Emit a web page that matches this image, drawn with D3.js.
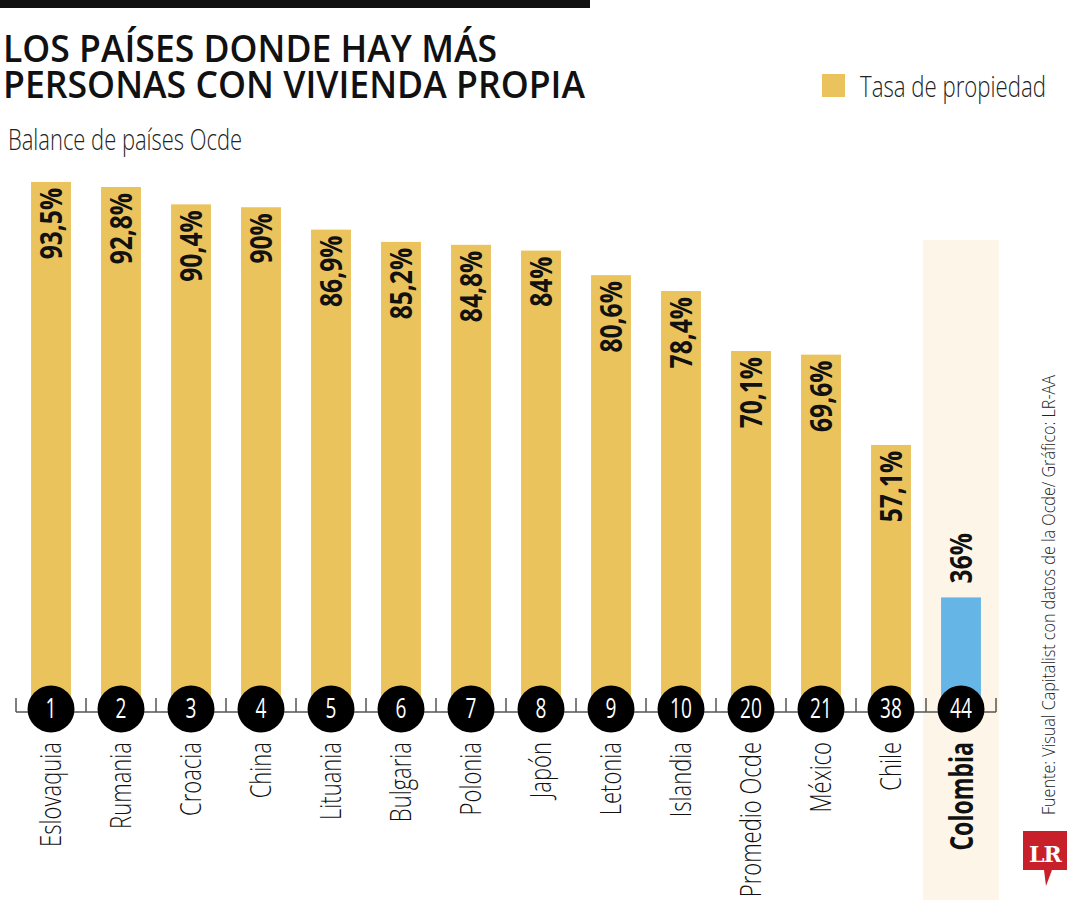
<!DOCTYPE html>
<html lang="es">
<head>
<meta charset="utf-8">
<title>Vivienda propia</title>
<script src="https://d3js.org/d3.v7.min.js"></script>
<style>
  body { margin: 0; background: #fff; }
  text { font-family: "Open Sans", "Noto Sans", sans-serif; }
</style>
</head>
<body>
<script>
var w = 1080, h = 900;

// datos
var countries = ["Eslovaquia", "Rumania", "Croacia", "China", "Lituania", "Bulgaria", "Polonia",
                 "Japón", "Letonia", "Islandia", "Promedio Ocde", "México", "Chile", "Colombia"];
var ranks = [1, 2, 3, 4, 5, 6, 7, 8, 9, 10, 20, 21, 38, 44];
var rates = [93.5, 92.8, 90.4, 90, 86.9, 85.2, 84.8, 84, 80.6, 78.4, 70.1, 69.6, 57.1, 36];
var rateLabels = ["93,5%", "92,8%", "90,4%", "90%", "86,9%", "85,2%", "84,8%", "84%",
                  "80,6%", "78,4%", "70,1%", "69,6%", "57,1%", "36%"];

var gold = "#eac35d", blue = "#65b6e6";
var axisY = 712;

var svg = d3.select("body").append("svg")
    .attr("width", w)
    .attr("height", h);

var x = d3.scaleBand().domain(countries).range([16, 996]).paddingInner(0.43).paddingOuter(0.215);
// escala truncada: el cero queda debajo del eje
var y = d3.scaleLinear().domain([0, 100]).range([857.5, 135]);
var cx = function(d) { return x(d) + x.bandwidth() / 2; };

// franja de Colombia
svg.append("rect")
    .attr("x", x("Colombia") - 18).attr("y", 240)
    .attr("width", x.bandwidth() + 36).attr("height", h - 240)
    .attr("fill", "#fdf6e8");

// barra superior y titulo
svg.append("rect").attr("x", 0).attr("y", 0).attr("width", 590).attr("height", 8).attr("fill", "#111");
svg.append("text").attr("x", 3).attr("y", 62)
    .attr("font-size", 37).attr("font-weight", 600).attr("fill", "#111")
    .attr("textLength", 494).attr("lengthAdjust", "spacingAndGlyphs")
    .text("LOS PAÍSES DONDE HAY MÁS");
svg.append("text").attr("x", 3).attr("y", 98)
    .attr("font-size", 37).attr("font-weight", 600).attr("fill", "#111")
    .attr("textLength", 582).attr("lengthAdjust", "spacingAndGlyphs")
    .text("PERSONAS CON VIVIENDA PROPIA");
svg.append("text").attr("x", 8).attr("y", 150)
    .attr("font-size", 30).attr("font-weight", 300).attr("fill", "#222")
    .attr("textLength", 234).attr("lengthAdjust", "spacingAndGlyphs")
    .text("Balance de países Ocde");

// leyenda
svg.append("rect").attr("x", 822).attr("y", 74).attr("width", 23).attr("height", 23).attr("fill", gold);
svg.append("text").attr("x", 860).attr("y", 97)
    .attr("font-size", 30).attr("font-weight", 300).attr("fill", "#222")
    .attr("textLength", 186).attr("lengthAdjust", "spacingAndGlyphs")
    .text("Tasa de propiedad");

// barras
svg.selectAll(".bar").data(countries).enter().append("rect")
    .attr("class", "bar")
    .attr("x", function(d) { return x(d); })
    .attr("y", function(d, i) { return y(rates[i]); })
    .attr("width", x.bandwidth())
    .attr("height", function(d, i) { return axisY - y(rates[i]); })
    .attr("fill", function(d) { return d == "Colombia" ? blue : gold; });

// etiquetas de valor (texto vertical, condensado)
svg.selectAll(".val").data(countries).enter().append("text")
    .attr("class", "val")
    .attr("transform", function(d, i) {
        var ty = d == "Colombia" ? y(rates[i]) - 14 : y(rates[i]) + 6;
        return "translate(" + (cx(d) + 11) + "," + ty + ") rotate(-90) scale(0.82,1)";
    })
    .attr("text-anchor", function(d) { return d == "Colombia" ? "start" : "end"; })
    .attr("font-size", 30).attr("font-weight", "bold").attr("fill", "#111")
    .text(function(d, i) { return rateLabels[i]; });

// eje
var axis = d3.axisBottom(x).tickSize(0).tickFormat("");
var g = svg.append("g").attr("transform", "translate(0," + axisY + ")").call(axis);
g.select(".domain").attr("stroke", "#555").attr("stroke-width", 1.5).attr("d", "M16,0H996");
var seps = d3.range(countries.length + 1).map(function(i) {
    return i == 0 ? 16 : (i == countries.length ? 996 : x(countries[i]) - x.step() * x.paddingInner() / 2);
});
svg.selectAll(".sep").data(seps).enter().append("line")
    .attr("x1", function(d) { return d; }).attr("x2", function(d) { return d; })
    .attr("y1", axisY - 14).attr("y2", axisY)
    .attr("stroke", "#555").attr("stroke-width", 1.5);

// circulos de ranking
svg.selectAll(".rk").data(countries).enter().append("circle")
    .attr("cx", cx)
    .attr("cy", axisY - 3)
    .attr("r", 23.5)
    .attr("fill", "#000");
svg.selectAll(".rkt").data(countries).enter().append("text")
    .attr("transform", function(d) { return "translate(" + cx(d) + "," + (axisY + 6) + ") scale(0.68,1)"; })
    .attr("text-anchor", "middle")
    .attr("font-size", 28).attr("fill", "#fff")
    .text(function(d, i) { return ranks[i]; });

// nombres de paises
svg.selectAll(".name").data(countries).enter().append("text")
    .attr("transform", function(d) {
        var s = d == "Colombia" ? 0.7 : 0.76;
        var dx = d == "Colombia" ? 12 : 10;
        return "translate(" + (cx(d) + dx) + "," + 742 + ") rotate(-90) scale(" + s + ",1)";
    })
    .attr("text-anchor", "end")
    .attr("font-size", function(d) { return d == "Colombia" ? 33 : 29; })
    .attr("font-weight", function(d) { return d == "Colombia" ? "bold" : 300; })
    .attr("fill", "#111")
    .text(function(d) { return d; });

// fuente
svg.append("text")
    .attr("transform", "translate(1055,815) rotate(-90)")
    .attr("font-size", 18).attr("font-weight", 300).attr("fill", "#222")
    .attr("textLength", 440).attr("lengthAdjust", "spacingAndGlyphs")
    .text("Fuente: Visual Capitalist con datos de la Ocde/ Gráfico: LR-AA");

// logo LR
svg.append("path")
    .attr("d", "M1023,831H1067V870H1052L1046,886L1044,870H1023Z")
    .attr("fill", "#c8202a");
svg.append("text").attr("x", 1045).attr("y", 862)
    .attr("text-anchor", "middle")
    .style("font-family", "'DejaVu Serif', 'Liberation Serif', serif")
    .attr("font-size", 22).attr("font-weight", "bold").attr("fill", "#fff")
    .attr("letter-spacing", -1)
    .text("LR");
</script>
</body>
</html>
